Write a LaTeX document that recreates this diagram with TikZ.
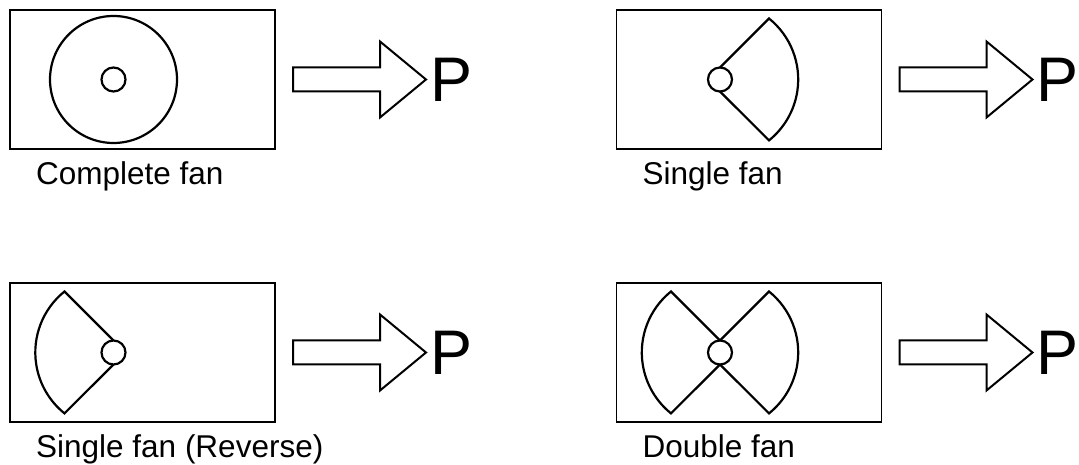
\documentclass[tikz,border=0pt]{standalone}
\usepackage{fontspec}
\setmainfont{Liberation Sans}
\usepackage{tikz}
\usetikzlibrary{calc,positioning}

\tikzset{
  panel/.style={draw,line width=1.7pt,minimum width=265pt,minimum height=139pt,inner sep=0pt,outer sep=0pt},
  hub/.style={draw,circle,line width=2.2pt,minimum size=24pt,inner sep=0pt,outer sep=0pt},
  fanline/.style={line width=2.2pt,line join=miter},
  caption/.style={anchor=base west,inner sep=0pt,font=\fontsize{31.5}{36}\selectfont},
  pletter/.style={inner sep=0pt,font=\fontsize{63}{70}\selectfont},
  fatarrow/.pic={
    \draw[line width=2pt,line join=miter] (0,12) -- (87,12) -- (87,38) -- (133,0)
      -- (87,-38) -- (87,-12) -- (0,-12) -- cycle;
    \coordinate (-tip) at (133,0);
  }
}

\begin{document}
\begin{tikzpicture}[x=1pt,y=1pt]
    \useasboundingbox (0,0) rectangle (1079,465);
    % Paneler med nav, blokpil, P og tekst
    \foreach \bx/\by/\nm/\txt in {142.5/385.5/A/{Complete fan},749/385.5/B/{Single fan},
                                  142.5/112.5/C/{Single fan (Reverse)},749/112.5/D/{Double fan}} {
      \node[panel] (box\nm) at (\bx,\by) {};
      \node[hub] (hub\nm) at ($(box\nm.west)+(103.5,0)$) {};
      \pic (ar\nm) at ($(box\nm.east)+(18,0)$) {fatarrow};
      \node[pletter,right=4pt of ar\nm-tip] (p\nm) {P};
      \node[caption] (lbl\nm) at ($(box\nm.south west)+(26,-36)$) {\txt};
    }
    % Komplet vifte
    \draw[fanline] (hubA) circle[radius=63.5];
    % Enkelt vifte (hoejre)
    \draw[fanline] (hubB.north) -- ++(49,49) arc[start angle=51.2,end angle=-51.2,radius=78.2] -- (hubB.south);
    % Enkelt vifte (omvendt)
    \draw[fanline] (hubC.north) -- ++(-49,49) arc[start angle=128.8,end angle=231.2,radius=78.2] -- (hubC.south);
    % Dobbelt vifte
    \draw[fanline] (hubD.north) -- ++(49,49) arc[start angle=51.2,end angle=-51.2,radius=78.2] -- (hubD.south);
    \draw[fanline] (hubD.north) -- ++(-49,49) arc[start angle=128.8,end angle=231.2,radius=78.2] -- (hubD.south);
  \end{tikzpicture}
\end{document}
